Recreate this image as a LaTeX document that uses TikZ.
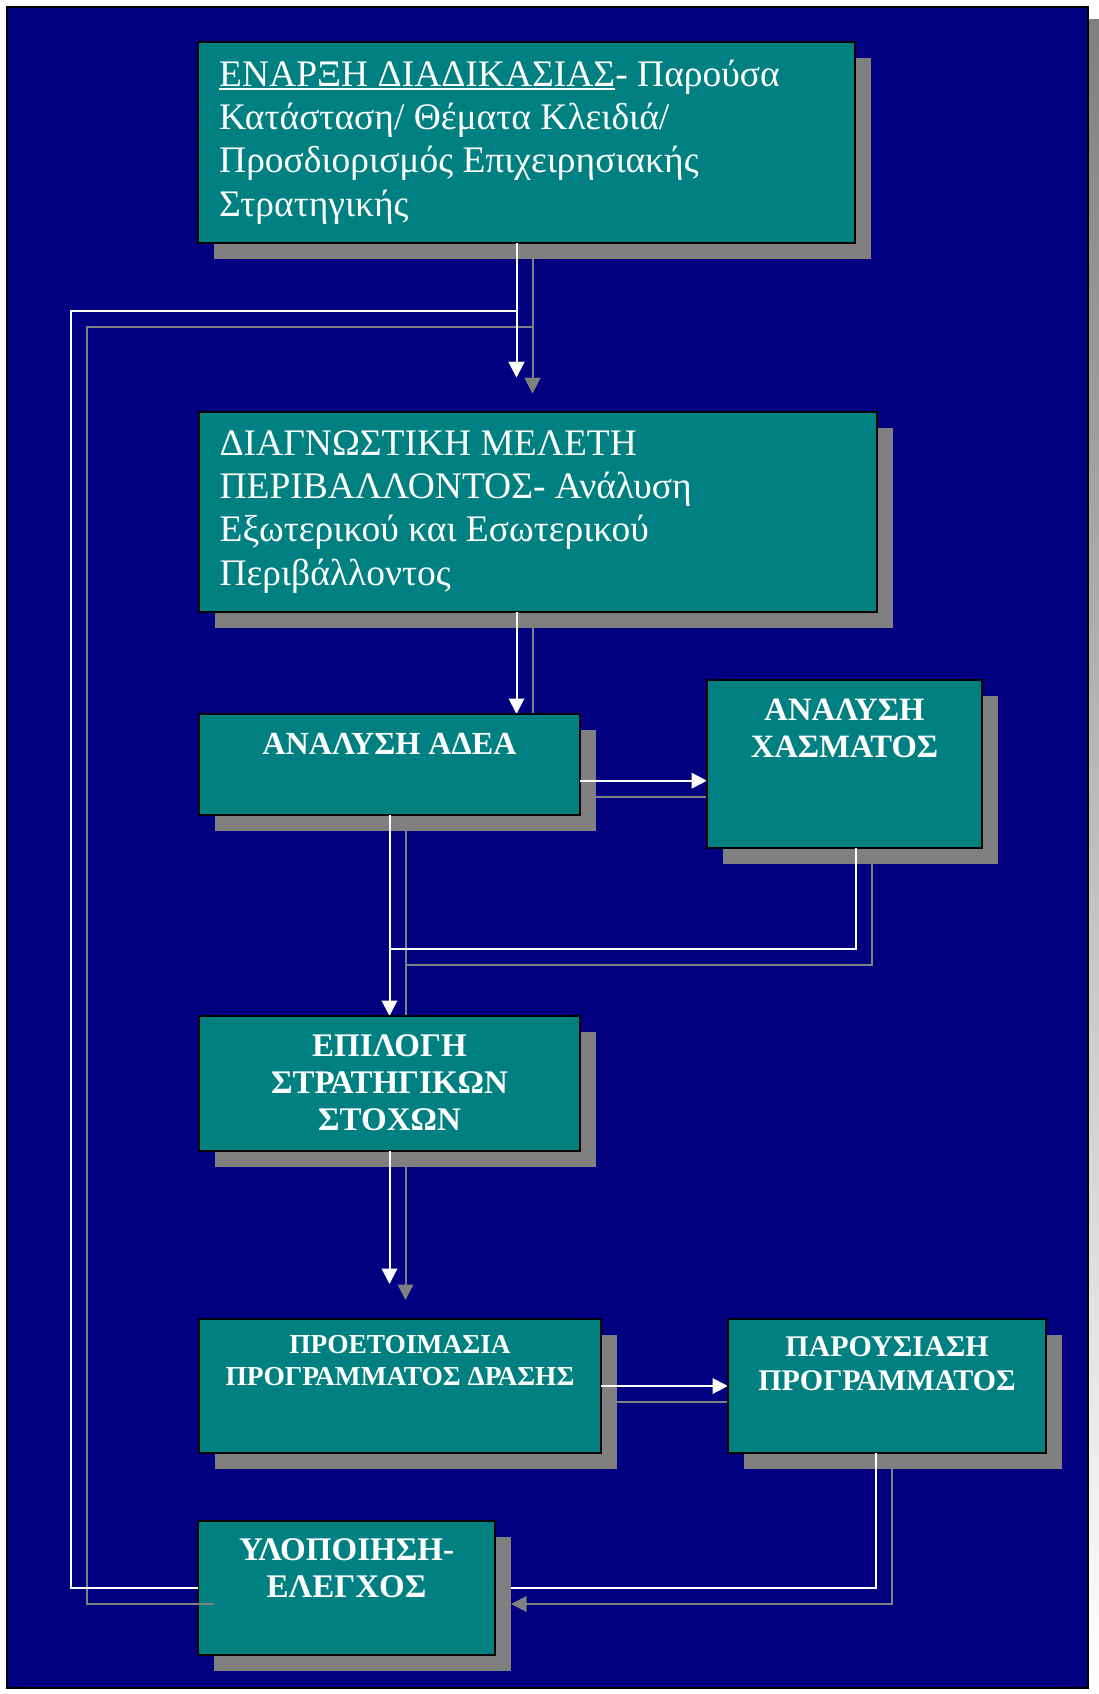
\documentclass[tikz,border=0pt]{standalone}
\usepackage{fontspec}
\setmainfont{Liberation Serif}
\usetikzlibrary{arrows.meta,shadows}

\definecolor{navybg}{RGB}{0,0,128}
\definecolor{tealbox}{RGB}{0,128,128}
\definecolor{shade}{RGB}{128,128,128}

% underline drawn as a rule just below the baseline
\newcommand\ulined[1]{\setbox0=\hbox{#1}\rlap{\rule[-4pt]{\wd0}{1.8pt}}\box0}
\newcommand\headfont[2]{\bfseries\fontsize{#1}{#2}\selectfont}

\tikzset{
  stagebox/.style={draw=black, line width=2pt, fill=tealbox, inner sep=0pt, outer sep=0pt,
    anchor=north west,
    drop shadow={shadow xshift=16pt, shadow yshift=-16pt, fill=shade, opacity=1}},
  % multi-line text nodes are placed by the baseline of their last line
  bodytext/.style={text=white, inner sep=0pt, align=left, anchor=base west,
    font=\fontsize{37.5}{43.3}\selectfont},
  headtext/.style={text=white, inner sep=0pt, align=center, anchor=base},
  wire/.style={draw=white, line width=2pt},
  wireshade/.style={draw=shade, line width=2pt,
    transform canvas={xshift=16pt, yshift=-16pt}},
  tip/.style={-{Triangle[length=15.5pt,width=15.5pt]}},
}

\begin{document}
\begin{tikzpicture}[x=1pt,y=-1pt]
\useasboundingbox (0,0) rectangle (1099,1694);

% page panel with its shadow
\fill[shade] (24,20) rectangle (1099,1694);
\draw[fill=navybg, line width=2pt] (7,7) rectangle (1088,1688);

% routing columns and rows
\coordinate (colA) at (516.5,0);
\coordinate (colD) at (855.5,0);
\coordinate (colP) at (876,0);
\coordinate (colL) at (71,0);
\coordinate (rowT) at (0,310.7);
\coordinate (rowG) at (0,780.7);
\coordinate (in2) at (516.5,377.3);
\coordinate (in3) at (516.5,714);
\coordinate (in4) at (707,780.7);
\coordinate (in5) at (389.5,1016);
\coordinate (in6) at (389.5,1284);
\coordinate (j45) at (389.5,949);

% 1: start of the process
\node[stagebox, minimum width=657pt, minimum height=201pt] (b1) at (198,42) {};
\node[bodytext] (t1) at (219,216) {\ulined{ΕΝΑΡΞΗ ΔΙΑΔΙΚΑΣΙΑΣ}- Παρούσα\\Κατάσταση/ Θέματα Κλειδιά/\\Προσδιορισμός Επιχειρησιακής\\Στρατηγικής};
\draw[wireshade, tip] (b1.south -| colA) -- (in2);
\draw[wire, tip] (b1.south -| colA) -- (in2);

% 2: environment study
\node[stagebox, minimum width=678pt, minimum height=200pt] (b2) at (199,412) {};
\node[bodytext] (t2) at (219.4,585) {ΔΙΑΓΝΩΣΤΙΚΗ ΜΕΛΕΤΗ\\ΠΕΡΙΒΑΛΛΟΝΤΟΣ- Ανάλυση\\Εξωτερικού και Εσωτερικού\\Περιβάλλοντος};
\draw[wireshade, tip] (b2.south -| colA) -- (in3);
\draw[wire, tip] (b2.south -| colA) -- (in3);

% 3: SWOT analysis
\node[stagebox, minimum width=381pt, minimum height=101pt] (b3) at (199,714) {};
\node[headtext, font=\headfont{32.2}{37}] (t3) at (b3.north |- 0,754) {ΑΝΑΛΥΣΗ ΑΔΕΑ};

% 3 -> 4 and 3 -> 5
\draw[wireshade, tip] (b3.east |- rowG) -- (in4);
\draw[wire, tip] (b3.east |- rowG) -- (in4);
\draw[wireshade, tip] (b3.south) -- (in5);
\draw[wire, tip] (b3.south) -- (in5);

% 4: gap analysis
\node[stagebox, minimum width=275pt, minimum height=168pt] (b4) at (707,680) {};
\node[headtext, font=\headfont{32.6}{37}] (t4) at (b4.north |- 0,757.7) {ΑΝΑΛΥΣΗ\\ΧΑΣΜΑΤΟΣ};
\draw[wireshade] (b4.south -| colD) |- (j45);
\draw[wire] (b4.south -| colD) |- (j45);

% 5: strategic goals
\node[stagebox, minimum width=381pt, minimum height=135pt] (b5) at (199,1016) {};
\node[headtext, font=\headfont{33}{37}] (t5) at (b5.north |- 0,1130.7) {ΕΠΙΛΟΓΗ\\ΣΤΡΑΤΗΓΙΚΩΝ\\ΣΤΟΧΩΝ};
\draw[wireshade, tip] (b5.south) -- (in6);
\draw[wire, tip] (b5.south) -- (in6);

% 6: action programme
\node[stagebox, minimum width=402pt, minimum height=134pt] (b6) at (199,1319) {};
\node[headtext, font=\headfont{27.4}{31.7}] (t6) at (b6.north |- 0,1385) {ΠΡΟΕΤΟΙΜΑΣΙΑ\\ΠΡΟΓΡΑΜΜΑΤΟΣ ΔΡΑΣΗΣ};
\draw[wireshade, tip] (b6.east) -- ++(127,0);
\draw[wire, tip] (b6.east) -- ++(127,0);

% 7: programme presentation
\node[stagebox, minimum width=318pt, minimum height=134pt] (b7) at (728,1319) {};
\node[headtext, font=\headfont{30}{34}] (t7) at (b7.north |- 0,1390) {ΠΑΡΟΥΣΙΑΣΗ\\ΠΡΟΓΡΑΜΜΑΤΟΣ};

% 7 -> 8, its head ends under the shadow of box 8
\coordinate (b8e) at (495,1588);
\draw[wireshade, tip] (b7.south -| colP) |- (b8e);
\draw[wire, tip] (b7.south -| colP) |- (b8e);

% 8: implementation and control
\node[stagebox, minimum width=297pt, minimum height=134pt] (b8) at (198,1521) {};
\node[headtext, font=\headfont{33}{36.6}] (t8) at (b8.north |- 0,1597.3) {ΥΛΟΠΟΙΗΣΗ-\\ΕΛΕΓΧΟΣ};

% feedback loop back to the start
\draw[wireshade, tip] (b8.west) -| (colL |- rowT) -| (in2);
\draw[wire, tip] (b8.west) -| (colL |- rowT) -| (in2);
\end{tikzpicture}
\end{document}
